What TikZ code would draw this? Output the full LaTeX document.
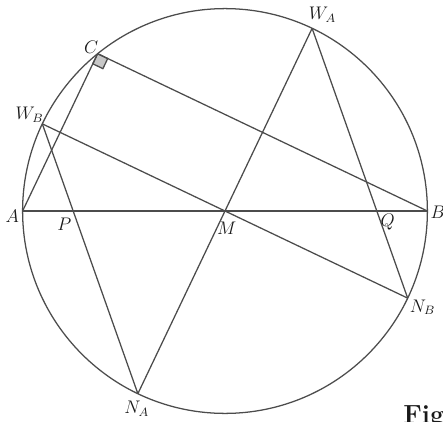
\documentclass[tikz,border=0pt]{standalone}
\usepackage{tikz}
\usetikzlibrary{calc}

\begin{document}
\begin{tikzpicture}[font=\large]
	\tikzset	{
		geo/.style={draw=black!70, line width=0.9pt},
		lbl/.style={inner sep=0pt, text=black!90, scale=1.08, transform shape},
	}
	\def\R{5.06}
	\def\T{129}
	\useasboundingbox (-5.625,-5.25) rectangle (5.45,5.275);

	\coordinate (M) at (0,0);
	\coordinate (A) at (180:\R);
	\coordinate (B) at (0:\R);
	\coordinate (C) at (\T:\R);
	\coordinate (WA) at ({\T/2}:\R);
	\coordinate (WB) at ({(180+\T)/2}:\R);
	\coordinate (NA) at ({180+\T/2}:\R);
	\coordinate (NB) at ({(540+\T)/2}:\R);
	\coordinate (P) at (intersection of WB--NA and A--B);
	\coordinate (Q) at (intersection of WA--NB and A--B);

	% right angle at C
	\coordinate (C1) at ($(C)!0.28cm!(A)$);
	\coordinate (C2) at ($(C)!0.28cm!(B)$);
	\coordinate (C3) at ($(C1)+(C2)-(C)$);
	\filldraw[fill=black!22, geo] (C) -- (C1) -- (C3) -- (C2) -- cycle;

	\draw[geo]	(M) circle (\R);
	\draw[geo]	(A) -- (B);
	\draw[geo]	(A) -- (C) -- (B);
	\draw[geo]	(WA) -- (NA);
	\draw[geo]	(WB) -- (NB);
	\draw[geo]	(WB) -- (NA);
	\draw[geo]	(WA) -- (NB);

	\node[lbl] (lA) at ($(A)+(-0.26,-0.14)$) {$A$};
	\node[lbl] (lB) at ($(B)+(0.26,-0.02)$) {$B$};
	\node[lbl] (lC) at ($(C)+(-0.16,0.17)$) {$C$};
	\node[lbl] (lWA) at ($(WA)+(0.26,0.33)$) {$W_A$};
	\node[lbl] (lWB) at ($(WB)+(-0.32,0.22)$) {$W_B$};
	\node[lbl] (lP) at ($(P)+(-0.22,-0.34)$) {$P$};
	\node[lbl] (lM) at ($(M)+(0.04,-0.43)$) {$M$};
	\node[lbl] (lQ) at ($(Q)+(0.27,-0.28)$) {$Q$};
	\node[lbl] (lNB) at ($(NB)+(0.37,-0.23)$) {$N_B$};
	\node[lbl] (lNA) at ($(NA)+(-0.03,-0.38)$) {$N_A$};

	\node[lbl, anchor=base west, font=\LARGE\bfseries] (fig) at (4.45,-5.3) {Fig};
\end{tikzpicture}
\end{document}
